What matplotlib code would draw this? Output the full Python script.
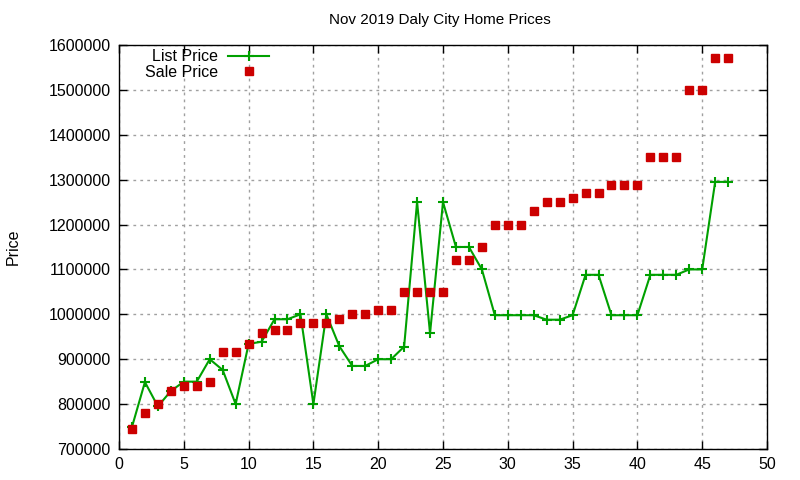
import matplotlib
matplotlib.use("Agg")
import matplotlib.pyplot as plt

# house index along the x axis
house = list(range(1, 48))

list_price = [
    749000, 849000, 795000, 829000, 850000, 850000, 900000, 876000, 800000, 934000,
    939000, 989000, 989000, 1000000, 800000, 1000000, 929000, 885000, 885000, 900000,
    900000, 928000, 1250000, 958000, 1250000, 1150000, 1150000, 1100000, 998000, 998000,
    998000, 998000, 988000, 988000, 998000, 1088000, 1088000, 998000, 998000, 998000,
    1088000, 1088000, 1088000, 1100000, 1100000, 1295000, 1295000,
]

sale_price = [
    745000, 780000, 800000, 830000, 841000, 841000, 850000, 917000, 917000, 934000,
    959000, 965000, 965000, 981000, 981000, 981000, 990000, 1000000, 1000000, 1010000,
    1010000, 1050000, 1050000, 1050000, 1050000, 1120000, 1120000, 1150000, 1199000, 1199000,
    1199000, 1231000, 1250000, 1250000, 1260000, 1270000, 1270000, 1289000, 1289000, 1289000,
    1350000, 1350000, 1350000, 1500000, 1500000, 1570000, 1570000,
]

plt.rcParams["font.family"] = ["Liberation Sans", "DejaVu Sans"]
plt.rcParams["font.size"] = 11

fig = plt.figure(figsize=(8, 4.8), dpi=100)
ax = fig.add_axes([0.14875, 0.0646, 0.81, 0.8417])

ax.plot(house, list_price, color="#00a000", lw=1.5, marker="+", ms=7.5, mew=1.5,
        label="List Price", zorder=3)
ax.plot(house, sale_price, ls="none", color="#cc0000", marker="s", ms=6,
        label="Sale Price", zorder=4)

ax.set_xlim(0, 50)
ax.set_ylim(700000, 1600000)
ax.set_xticks(range(0, 51, 5))
ax.set_yticks(range(700000, 1600001, 100000))
ax.ticklabel_format(axis="y", style="plain", useOffset=False)
ax.grid(True, color="#a0a0a0", ls=(0, (2, 3)), lw=1)
ax.set_axisbelow(True)
ax.tick_params(direction="in", top=True, right=True, length=6, width=1, labelsize=11.5, pad=6)
for s in ax.spines.values():
    s.set_linewidth(1)

fig.text(0.55, 0.958, "Nov 2019 Daly City Home Prices", ha="center", va="center", fontsize=11)
fig.text(0.017, 0.485, "Price", ha="center", va="center", rotation=90, fontsize=11.5)

ax.legend(loc="upper left", bbox_to_anchor=(0.023, 1.017), frameon=False, markerfirst=False,
          handlelength=2.6, fontsize=11.5, labelspacing=0.05, borderaxespad=0.3,
          handletextpad=0.6)

fig.savefig("out.png", dpi=100)
